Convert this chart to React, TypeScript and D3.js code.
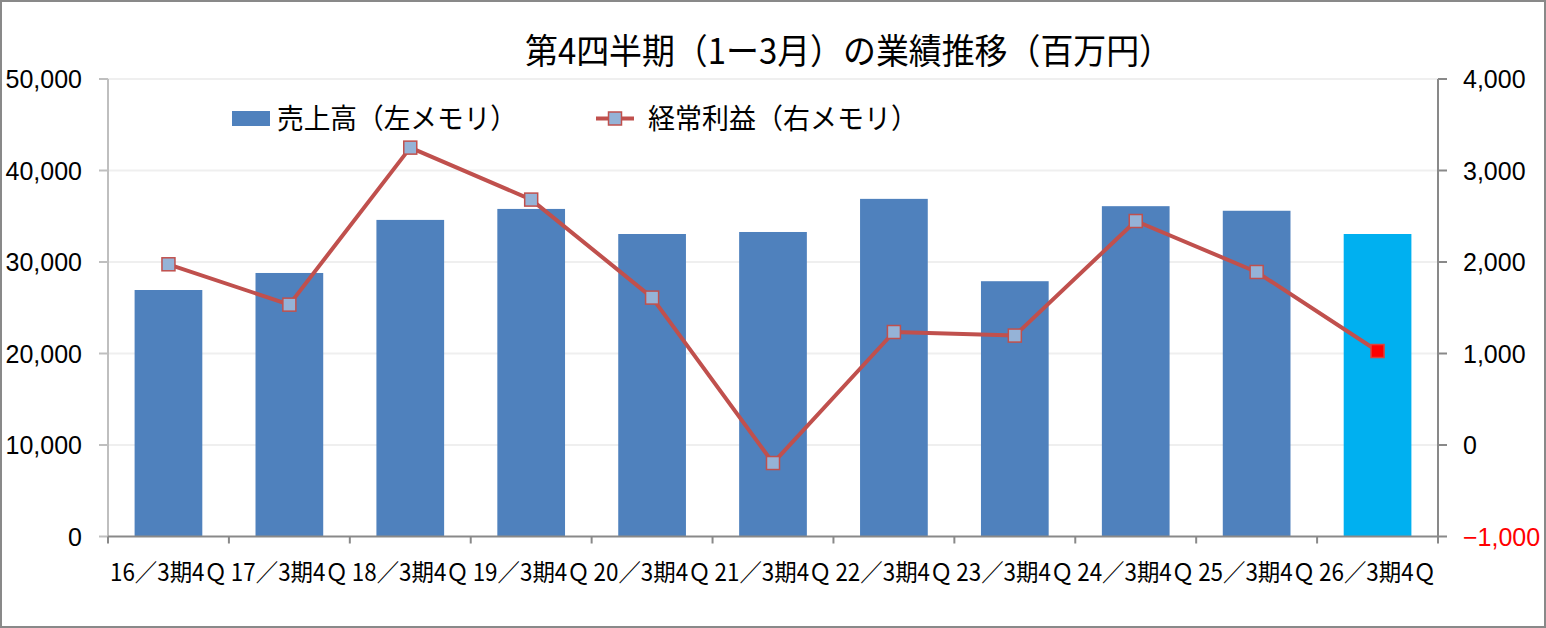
import { useEffect, useRef } from "react"
import * as d3 from "d3"

// 期ラベル
const categories = [
  "16／3期4Ｑ",
  "17／3期4Ｑ",
  "18／3期4Ｑ",
  "19／3期4Ｑ",
  "20／3期4Ｑ",
  "21／3期4Ｑ",
  "22／3期4Ｑ",
  "23／3期4Ｑ",
  "24／3期4Ｑ",
  "25／3期4Ｑ",
  "26／3期4Ｑ",
]
// 売上高 (左メモリ, 百万円)
const sales = [26940, 28800, 34600, 35800, 33060, 33280, 36900, 27900, 36100, 35600, 33060]
// 経常利益 (右メモリ, 百万円)
const ordinaryProfit = [1975, 1534, 3250, 2682, 1611, -197, 1235, 1196, 2448, 1891, 1027]

const leftTicks = [0, 10000, 20000, 30000, 40000, 50000]
const rightTicks = [-1000, 0, 1000, 2000, 3000, 4000]

const W = 1546
const H = 628
const jpFont = "'Noto Sans CJK JP', sans-serif"
const numFont = "'Liberation Sans', Arial, sans-serif"

export default function App() {
  const svgRef = useRef<SVGSVGElement>(null)

  useEffect(() => {
    document.body.style.margin = "0"
    if (!svgRef.current) return
    const svg = d3.select(svgRef.current)
    svg.selectAll("*").remove()

    const left = 108
    const right = 1438
    const top = 79
    const bottom = 536.5

    const x = d3.scaleBand().domain(categories).range([left, right]).paddingInner(0.44).paddingOuter(0.22)
    const yL = d3.scaleLinear().domain([0, 50000]).range([bottom, top])
    const yR = d3.scaleLinear().domain([-1000, 4000]).range([bottom, top])
    const fmt = d3.format(",")

    // outer frame
    svg
      .append("rect")
      .attr("x", 1)
      .attr("y", 1)
      .attr("width", W - 2)
      .attr("height", H - 2)
      .attr("fill", "#fff")
      .attr("stroke", "#898989")
      .attr("stroke-width", 2)

    // title (narrow Japanese font squeezed with textLength)
    svg
      .append("text")
      .attr("x", 525)
      .attr("y", 64)
      .attr("font-family", jpFont)
      .attr("font-size", 35)
      .attr("textLength", 647)
      .attr("lengthAdjust", "spacingAndGlyphs")
      .attr("fill", "#000")
      .text("第4四半期（1ー3月）の業績推移（百万円）")

    // grid lines
    svg
      .append("g")
      .selectAll("line")
      .data(leftTicks.filter((d) => d > 0))
      .enter()
      .append("line")
      .attr("x1", left)
      .attr("x2", right)
      .attr("y1", (d) => yL(d))
      .attr("y2", (d) => yL(d))
      .attr("stroke", "#efefef")
      .attr("stroke-width", 2)

    // bars
    svg
      .append("g")
      .selectAll("rect")
      .data(sales)
      .enter()
      .append("rect")
      .attr("x", (_, i) => x(categories[i]) || 0)
      .attr("width", x.bandwidth())
      .attr("y", (d) => yL(d))
      .attr("height", (d) => bottom - yL(d))
      .attr("fill", (_, i) => (i === sales.length - 1 ? "#00b0f0" : "#4f81bd"))

    // left axis
    const gL = svg.append("g").attr("transform", `translate(${left},0)`)
    gL.append("line").attr("y1", top).attr("y2", bottom).attr("stroke", "#bfbfbf").attr("stroke-width", 2)
    gL.selectAll(".tick")
      .data(leftTicks)
      .enter()
      .append("line")
      .attr("x1", -9)
      .attr("x2", 0)
      .attr("y1", (d) => yL(d))
      .attr("y2", (d) => yL(d))
      .attr("stroke", "#bfbfbf")
      .attr("stroke-width", 2)
    gL.selectAll("text")
      .data(leftTicks)
      .enter()
      .append("text")
      .attr("x", -26)
      .attr("y", (d) => yL(d) + 9)
      .attr("text-anchor", "end")
      .attr("font-family", numFont)
      .attr("font-size", 25)
      .attr("fill", "#000")
      .text((d) => fmt(d))

    // right axis
    const gR = svg.append("g").attr("transform", `translate(${right},0)`)
    gR.append("line").attr("y1", top).attr("y2", bottom).attr("stroke", "#898989").attr("stroke-width", 2)
    gR.selectAll(".tick")
      .data(rightTicks)
      .enter()
      .append("line")
      .attr("x1", 0)
      .attr("x2", 9)
      .attr("y1", (d) => yR(d))
      .attr("y2", (d) => yR(d))
      .attr("stroke", "#898989")
      .attr("stroke-width", 2)
    gR.selectAll("text")
      .data(rightTicks)
      .enter()
      .append("text")
      .attr("x", 25)
      .attr("y", (d) => yR(d) + 9)
      .attr("font-family", numFont)
      .attr("font-size", 25)
      .attr("fill", (d) => (d < 0 ? "#ff0000" : "#000"))
      .text((d) => (d < 0 ? "−" + fmt(-d) : fmt(d)))

    // bottom axis
    const gB = svg.append("g")
    gB.append("line")
      .attr("x1", left)
      .attr("x2", right)
      .attr("y1", bottom)
      .attr("y2", bottom)
      .attr("stroke", "#898989")
      .attr("stroke-width", 2)
    const bounds = d3.range(categories.length + 1).map((i) => left + i * ((right - left) / categories.length))
    gB.selectAll(".tick")
      .data(bounds)
      .enter()
      .append("line")
      .attr("x1", (d) => d)
      .attr("x2", (d) => d)
      .attr("y1", bottom)
      .attr("y2", bottom + 7)
      .attr("stroke", "#898989")
      .attr("stroke-width", 2)
    gB.selectAll("text")
      .data(categories)
      .enter()
      .append("text")
      .attr("x", (d) => (x(d) || 0) + x.bandwidth() / 2 - 58.5)
      .attr("y", 581)
      .attr("font-family", jpFont)
      .attr("font-size", 24)
      .attr("textLength", 117)
      .attr("lengthAdjust", "spacingAndGlyphs")
      .attr("fill", "#000")
      .text((d) => d)

    // profit line
    const cx = (i: number) => (x(categories[i]) || 0) + x.bandwidth() / 2
    const line = d3
      .line<number>()
      .x((_, i) => cx(i))
      .y((d) => yR(d))
    svg
      .append("path")
      .datum(ordinaryProfit)
      .attr("fill", "none")
      .attr("stroke", "#c0504d")
      .attr("stroke-width", 4)
      .attr("stroke-linejoin", "round")
      .attr("d", line)

    const ms = 13
    svg
      .append("g")
      .selectAll("rect")
      .data(ordinaryProfit)
      .enter()
      .append("rect")
      .attr("x", (_, i) => cx(i) - ms / 2)
      .attr("y", (d) => yR(d) - ms / 2)
      .attr("width", ms)
      .attr("height", ms)
      .attr("fill", (_, i) => (i === ordinaryProfit.length - 1 ? "#ff0000" : "#95b3d7"))
      .attr("stroke", (_, i) => (i === ordinaryProfit.length - 1 ? "#e0403a" : "#c0504d"))
      .attr("stroke-width", 1.5)

    // legend
    const lg = svg.append("g")
    lg.append("rect").attr("x", 232).attr("y", 111).attr("width", 38).attr("height", 15).attr("fill", "#4f81bd")
    lg.append("text")
      .attr("x", 277)
      .attr("y", 129)
      .attr("font-family", jpFont)
      .attr("font-size", 28)
      .attr("textLength", 240)
      .attr("lengthAdjust", "spacingAndGlyphs")
      .attr("fill", "#000")
      .text("売上高（左メモリ）")
    lg.append("line")
      .attr("x1", 596)
      .attr("x2", 634)
      .attr("y1", 118.5)
      .attr("y2", 118.5)
      .attr("stroke", "#c0504d")
      .attr("stroke-width", 4)
    lg.append("rect")
      .attr("x", 615 - ms / 2)
      .attr("y", 118.5 - ms / 2)
      .attr("width", ms)
      .attr("height", ms)
      .attr("fill", "#95b3d7")
      .attr("stroke", "#c0504d")
      .attr("stroke-width", 1.5)
    lg.append("text")
      .attr("x", 648)
      .attr("y", 129)
      .attr("font-family", jpFont)
      .attr("font-size", 28)
      .attr("textLength", 270)
      .attr("lengthAdjust", "spacingAndGlyphs")
      .attr("fill", "#000")
      .text("経常利益（右メモリ）")
  }, [])

  return <svg ref={svgRef} width={W} height={H} style={{ display: "block" }}></svg>
}
